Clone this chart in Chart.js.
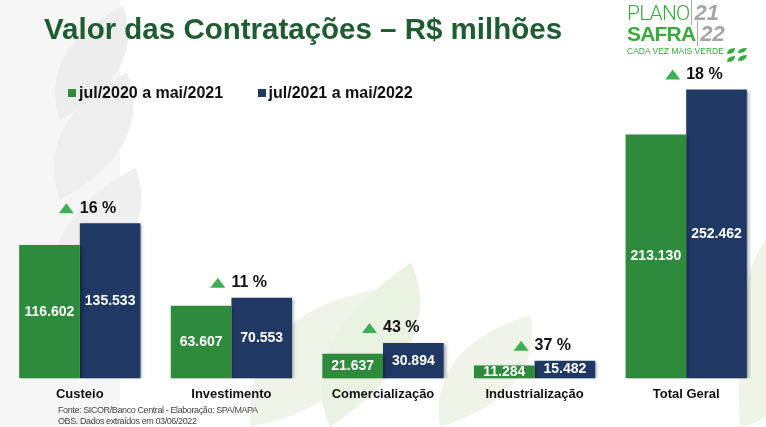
<!DOCTYPE html>
<html lang="pt-BR">
<head>
  <meta charset="UTF-8" />
  <title>Valor das Contratações – R$ milhões</title>
  <script src="https://cdn.jsdelivr.net/npm/chart.js"></script>
  <style>
    body {
      margin: 0;
      background: #ffffff;
      font-family: 'Liberation Sans', Arial, sans-serif;
    }
    #quadro {
      position: relative;
      width: 766px;
      height: 427px;
      overflow: hidden;
    }
    #quadro canvas {
      position: absolute;
      left: 0;
      top: 0;
    }
    h1 {
      position: absolute;
      left: 44px;
      top: 12px;
      margin: 0;
      font-size: 29.5px;
      font-weight: bold;
      color: #1f5c32;
      white-space: nowrap;
    }
    #legenda {
      position: absolute;
      left: 68px;
      top: 84px;
      font-size: 16px;
      font-weight: bold;
      color: #111;
      white-space: nowrap;
    }
    #legenda span.item { margin-right: 30px; }
    #legenda i {
      display: inline-block;
      width: 8px;
      height: 8px;
      margin-right: 3px;
      vertical-align: 1px;
    }
    #logo {
      position: absolute;
      left: 627px;
      top: 2px;
      width: 130px;
      color: #3aa93f;
    }
    #logo .linha { white-space: nowrap; line-height: 21px; height: 21px; }
    #logo .plano { font-family: Roboto, 'Liberation Sans', sans-serif; font-weight: 300; font-size: 21px; letter-spacing: -0.8px; }
    #logo .safra { font-weight: bold; font-size: 21px; letter-spacing: -0.8px; }
    #logo .ano { color: #a5a5a5; font-weight: bold; font-style: italic; font-size: 22px; border-left: 1.5px solid #a5a5a5; padding-left: 2px; margin-left: 2px; }
    #logo .lema { font-size: 8.5px; letter-spacing: 0; line-height: 10px; height: 10px; margin-top: 2px; }
    #logo .folhas {
      position: absolute;
      left: 99px;
      top: 45px;
    }
    #fonte {
      position: absolute;
      left: 58px;
      top: 405px;
      font-size: 9px;
      letter-spacing: -0.4px;
      line-height: 11px;
      color: #444;
      white-space: nowrap;
    }
  </style>
</head>
<body>
  <div id="quadro">
    <canvas id="grafico" width="766" height="427"></canvas>
    <h1>Valor das Contratações – R$ milhões</h1>
    <div id="legenda">
      <span class="item"><i style="background:#2e8b3c"></i>jul/2020 a mai/2021</span>
      <span class="item"><i style="background:#203864"></i>jul/2021 a mai/2022</span>
    </div>
    <div id="logo">
      <div class="linha"><span class="plano">PLANO</span><span class="ano">21</span></div>
      <div class="linha"><span class="safra">SAFRA</span><span class="ano">22</span></div>
      <div class="linha lema">CADA VEZ MAIS VERDE</div>
      <svg class="folhas" width="22" height="16" viewBox="0 0 22 16">
        <path d="M1 7 Q1 1 9 1 Q9 7 1 7 Z" fill="#3aa93f" />
        <path d="M12 6 Q12 1 21 1 Q20 6 12 6 Z" fill="#3aa93f" />
        <path d="M1 15 Q1 9 9 9 Q9 15 1 15 Z" fill="#3aa93f" />
        <path d="M12 14 Q12 8 21 8 Q20 14 12 14 Z" fill="#3aa93f" />
      </svg>
    </div>
    <div id="fonte">
      Fonte: SICOR/Banco Central - Elaboração: SPA/MAPA<br />
      OBS. Dados extraídos em 03/06/2022
    </div>
  </div>

  <script>
    const categorias = ['Custeio', 'Investimento', 'Comercialização', 'Industrialização', 'Total Geral'];
    const periodos = ['jul/2020 a mai/2021', 'jul/2021 a mai/2022'];
    const valores2021 = [116602, 63607, 21637, 11284, 213130];
    const valores2022 = [135533, 70553, 30894, 15482, 252462];
    const variacoes = ['16 %', '11 %', '43 %', '37 %', '18 %'];

    const verde = '#2e8b3c';
    const azul = '#203864';
    const fmt = v => v.toLocaleString('pt-BR');

    // folhas claras ao fundo
    const fundo = {
      id: 'fundo',
      beforeDraw(chart) {
        const ctx = chart.ctx;
        ctx.save();
        const folha = (x, y, w, h, ang, cor) => {
          ctx.save();
          ctx.translate(x, y);
          ctx.rotate(ang);
          ctx.fillStyle = cor;
          ctx.beginPath();
          ctx.moveTo(0, 0);
          ctx.quadraticCurveTo(w * 0.1, -h, w, -h);
          ctx.quadraticCurveTo(w * 0.9, 0, 0, 0);
          ctx.fill();
          ctx.restore();
        };
        ctx.fillStyle = '#f6f6f6';
        ctx.fillRect(0, 0, 120, 427);
        folha(60, 120, 110, 70, -0.5, '#ededed');
        folha(60, 200, 120, 80, -0.5, '#eeeeee');
        folha(60, 300, 130, 80, -0.5, '#efefef');
        folha(250, 427, 150, 110, -0.2, '#eef5e8');
        folha(330, 427, 160, 90, -0.6, '#eaf3e2');
        folha(440, 427, 120, 80, -0.3, '#eef5e8');
        folha(740, 427, 80, 200, -0.1, '#eef5e8');
        ctx.restore();
      }
    };

    // rótulos de valor e variação
    const rotulos = {
      id: 'rotulos',
      beforeDatasetsDraw(chart) {
        const ctx = chart.ctx;
        ctx.save();
        ctx.shadowColor = 'rgba(0,0,0,0.35)';
        ctx.shadowOffsetX = 2;
        ctx.shadowOffsetY = 1;
        ctx.shadowBlur = 3;
      },
      afterDatasetsDraw(chart) {
        const ctx = chart.ctx;
        ctx.restore();
        ctx.save();
        ctx.font = 'bold 14px "Liberation Sans", Arial, sans-serif';
        ctx.fillStyle = '#ffffff';
        ctx.textAlign = 'center';
        ctx.textBaseline = 'middle';
        chart.data.datasets.forEach((ds, d) => {
          chart.getDatasetMeta(d).data.forEach((bar, i) => {
            ctx.fillText(fmt(ds.data[i]), bar.x, (bar.y + bar.base) / 2);
          });
        });
        const m0 = chart.getDatasetMeta(0).data;
        const m1 = chart.getDatasetMeta(1).data;
        ctx.font = 'bold 16px "Liberation Sans", Arial, sans-serif';
        ctx.textAlign = 'left';
        variacoes.forEach((txt, i) => {
          const cx = (m0[i].x + m1[i].x) / 2;
          const y = m1[i].y - 15;
          ctx.fillStyle = '#3cb054';
          ctx.beginPath();
          ctx.moveTo(cx - 21, y + 5);
          ctx.lineTo(cx - 6, y + 5);
          ctx.lineTo(cx - 13.5, y - 5);
          ctx.closePath();
          ctx.fill();
          ctx.fillStyle = '#111111';
          ctx.fillText(txt, cx, y);
        });
        ctx.restore();
      }
    };

    new Chart(document.getElementById('grafico'), {
      type: 'bar',
      data: {
        labels: categorias,
        datasets: [
          { label: periodos[0], data: valores2021, backgroundColor: verde },
          { label: periodos[1], data: valores2022, backgroundColor: azul }
        ]
      },
      options: {
        responsive: false,
        animation: false,
        devicePixelRatio: 1,
        categoryPercentage: 0.8,
        barPercentage: 1.0,
        layout: { padding: { left: 4, right: 4, top: 81, bottom: 17 } },
        plugins: {
          legend: { display: false },
          tooltip: { enabled: false }
        },
        scales: {
          x: {
            grid: { display: false, drawTicks: false },
            border: { display: false },
            ticks: {
              color: '#111',
              padding: 8,
              font: { family: '"Liberation Sans", Arial, sans-serif', size: 13, weight: 'bold' }
            }
          },
          y: { display: false, min: 0, max: 260000 }
        }
      },
      plugins: [fundo, rotulos]
    });
  </script>
</body>
</html>
